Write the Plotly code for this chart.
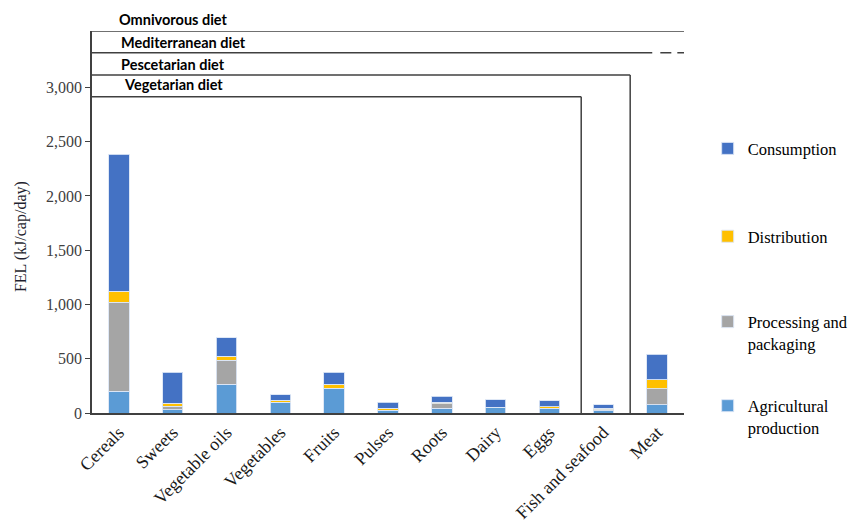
import plotly.graph_objects as go

categories = ["Cereals", "Sweets", "Vegetable oils", "Vegetables", "Fruits", "Pulses",
              "Roots", "Dairy", "Eggs", "Fish and seafood", "Meat"]
agricultural = [200, 31, 267, 98, 227, 22, 43, 49, 40, 20, 77]
processing = [820, 31, 221, 3, 3, 5, 43, 2, 5, 8, 145]
distribution = [100, 28, 34, 16, 35, 16, 15, 2, 14, 14, 86]
consumption = [1265, 286, 172, 49, 110, 58, 52, 70, 52, 35, 233]

series_names = ["Agricultural<br>production", "Processing and<br>packaging", "Distribution", "Consumption"]
series_colors = ["#5B9BD5", "#A5A5A5", "#FFC000", "#4472C4"]
legend_ids = ["legend4", "legend3", "legend2", "legend"]
legend_y = [-0.009, 0.211, 0.462, 0.692]

diet_names = ["Omnivorous diet", "Mediterranean diet", "Pescetarian diet", "Vegetarian diet"]
y_tick_vals = [0, 500, 1000, 1500, 2000, 2500, 3000]

serif = "Liberation Serif, Times New Roman, serif"

fig = go.Figure()
for name, vals, col, lid in zip(series_names, [agricultural, processing, distribution, consumption],
                                series_colors, legend_ids):
    fig.add_trace(go.Bar(
        x=categories, y=vals, name=name, marker_color=col,
        marker_line=dict(color="rgba(220,230,245,0.9)", width=1),
        legend=lid,
    ))

Y_TOP = 3520
line_col = "#404040"
lw = 1.5
shapes = []
# outer (omnivorous) box
shapes.append(dict(type="line", xref="x", yref="y", x0=-0.5, x1=10.53, y0=Y_TOP, y1=Y_TOP,
                   line=dict(color=line_col, width=lw)))
shapes.append(dict(type="line", xref="x", yref="y", x0=10.53, x1=10.53, y0=0, y1=Y_TOP,
                   line=dict(color=line_col, width=lw)))
# mediterranean
shapes.append(dict(type="line", xref="x", yref="y", x0=-0.5, x1=9.91, y0=3320, y1=3320,
                   line=dict(color=line_col, width=lw)))
shapes.append(dict(type="line", xref="x", yref="y", x0=10.06, x1=10.53, y0=3320, y1=3320,
                   line=dict(color=line_col, width=lw, dash="11px,6px")))
# pescetarian
shapes.append(dict(type="line", xref="x", yref="y", x0=-0.5, x1=9.5, y0=3115, y1=3115,
                   line=dict(color=line_col, width=lw)))
shapes.append(dict(type="line", xref="x", yref="y", x0=9.5, x1=9.5, y0=0, y1=3115,
                   line=dict(color=line_col, width=lw)))
# vegetarian
shapes.append(dict(type="line", xref="x", yref="y", x0=-0.5, x1=8.59, y0=2915, y1=2915,
                   line=dict(color=line_col, width=lw)))
shapes.append(dict(type="line", xref="x", yref="y", x0=8.59, x1=8.59, y0=0, y1=2915,
                   line=dict(color=line_col, width=lw)))

annotations = []
label_y = [1.029, 0.969, 0.911, 0.859]
label_x = [0.043, 0.046, 0.046, 0.050]
for nm, yy, xx in zip(diet_names, label_y, label_x):
    annotations.append(dict(text="<b>" + nm + "</b>", xref="paper", yref="paper", x=xx, y=yy,
                            xanchor="left", yanchor="middle", showarrow=False,
                            font=dict(family="Lato, Liberation Sans, sans-serif", size=14.5, color="#000000")))
annotations.append(dict(text="FEL (kJ/cap/day)", xref="paper", yref="paper", x=-0.12, y=0.463,
                        textangle=-90, showarrow=False, xanchor="center", yanchor="middle",
                        font=dict(family=serif, size=16, color="#1f1f2f")))

legend_common = dict(x=1.04, xanchor="left", yanchor="middle", valign="top",
                     font=dict(family=serif, size=16.5, color="#000000"),
                     itemwidth=30, bgcolor="rgba(0,0,0,0)")

fig.update_layout(
    width=855, height=528,
    margin=dict(l=92, r=171, t=31, b=115, autoexpand=False),
    paper_bgcolor="white", plot_bgcolor="white",
    barmode="stack", bargap=0.62,
    showlegend=True,
    legend=dict(y=legend_y[3], **legend_common),
    legend2=dict(y=legend_y[2], **legend_common),
    legend3=dict(y=legend_y[1], **legend_common),
    legend4=dict(y=legend_y[0], **legend_common),
    shapes=shapes, annotations=annotations,
    xaxis=dict(range=[-0.5, 10.5], showline=True, linecolor=line_col, linewidth=lw,
               ticks="", tickangle=-45, showgrid=False, automargin=False,
               tickfont=dict(family=serif, size=18, color="#1a1a1a")),
    yaxis=dict(range=[0, Y_TOP], tickvals=y_tick_vals, tickformat=",", showline=True,
               linecolor=line_col, linewidth=lw, ticks="outside", ticklen=5, tickcolor=line_col,
               showgrid=False, zeroline=False, automargin=False,
               tickfont=dict(family=serif, size=16, color="#404040")),
)

fig.write_html("out.html", config={"displayModeBar": False},
               post_script="document.body.style.margin='0';document.body.style.padding='0';")
